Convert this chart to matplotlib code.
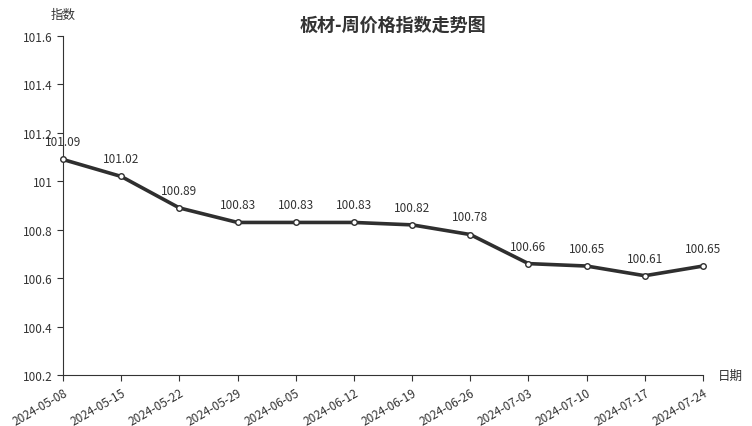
import matplotlib
matplotlib.use("Agg")
import matplotlib.pyplot as plt

plt.rcParams['font.family'] = ['Noto Sans CJK SC', 'DejaVu Sans']

# Data
dates = ["2024-05-08", "2024-05-15", "2024-05-22", "2024-05-29", "2024-06-05", "2024-06-12",
         "2024-06-19", "2024-06-26", "2024-07-03", "2024-07-10", "2024-07-17", "2024-07-24"]
values = [101.09, 101.02, 100.89, 100.83, 100.83, 100.83, 100.82, 100.78, 100.66, 100.65, 100.61, 100.65]
y_ticks = [100.2, 100.4, 100.6, 100.8, 101.0, 101.2, 101.4, 101.6]
y_labels = ["100.2", "100.4", "100.6", "100.8", "101", "101.2", "101.4", "101.6"]

fig = plt.figure(figsize=(7.52, 4.27), dpi=100)
ax = fig.add_axes([63 / 752, 1 - 376 / 427, 640 / 752, 339 / 427])

x = list(range(len(dates)))
ax.plot(x, values, color='#2f2f2f', linewidth=2.6, marker='o', markersize=4,
        markerfacecolor='white', markeredgecolor='#2f2f2f', markeredgewidth=1, zorder=3,
        clip_on=False)

# value labels above each point
for xi, v in zip(x, values):
    ax.annotate(f"{v:.2f}", (xi, v), xytext=(0, 8), textcoords='offset points',
                ha='center', va='bottom', fontsize=8.5, color='#333333')

ax.set_xlim(0, len(dates) - 1)
ax.set_ylim(100.2, 101.6)
ax.set_xticks(x)
ax.set_xticklabels(dates, rotation=30, ha='right', rotation_mode='anchor', fontsize=8.5, color='#333333')
ax.set_yticks(y_ticks)
ax.set_yticklabels(y_labels, fontsize=8.5, color='#333333')

for side in ['top', 'right']:
    ax.spines[side].set_visible(False)
for side in ['left', 'bottom']:
    ax.spines[side].set_color('#333333')
ax.tick_params(axis='both', colors='#333333', length=4, labelcolor='#333333')

fig.text(63 / 752, 1 - 15 / 427, "指数", ha='center', va='center', fontsize=9, color='#333333')
fig.text(718 / 752, 1 - 376 / 427, "日期", ha='left', va='center', fontsize=9, color='#333333')
fig.text(393 / 752, 1 - 25 / 427, "板材-周价格指数走势图", ha='center', va='center',
         fontsize=13, fontweight='bold', color='#333333')

fig.savefig("out.png", dpi=100)
